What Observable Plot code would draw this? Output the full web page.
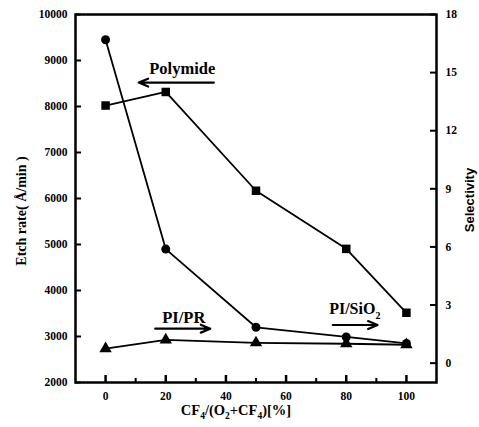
<!DOCTYPE html>
<html><head><meta charset="utf-8">
<script src="https://cdn.jsdelivr.net/npm/d3@7"></script>
<script src="https://cdn.jsdelivr.net/npm/@observablehq/plot@0.6"></script>
<style>body{margin:0;background:#fff} svg{display:block}</style>
</head><body><div id="chart"></div>
<script>
// Data
const ratio = [0, 20, 50, 80, 100];
const polymideEtch = [9450, 4900, 3200, 2990, 2850];   // left axis, Å/min
const selSiO2 = [13.3, 14.0, 8.9, 5.9, 2.6];           // right axis
const selPR = [0.75, 1.2, 1.05, 1.0, 0.95];            // right axis
const xTicks = [0, 20, 40, 60, 80, 100];
const xMinor = [10, 30, 50, 70, 90];
const leftTicks = [2000, 3000, 4000, 5000, 6000, 7000, 8000, 9000, 10000];
const rightTicks = [0, 3, 6, 9, 12, 15, 18];
const leftDomain = [2000, 10000];
const rightDomain = [-1, 18];
const xDomain = [-10, 110];
// annotations: label, x, y (left-axis units), arrow from/to x, arrow y
const annLabels = ["Polymide", "PI/PR"];
const annX = [25.5, 26];
const annY = [8830, 3400];
const arrowX1 = [36, 16.5, 75.5];
const arrowX2 = [11, 34.8, 90.4];
const arrowY = [8520, 3170, 3250];

const W = 479, H = 427, mL = 75, mR = 43, mT = 14, mB = 45;
const innerW = W - mL - mR, innerH = H - mT - mB;
const sel = d3.scaleLinear(rightDomain, leftDomain); // selectivity -> left units

const circ = ratio.map((x, i) => ({x, y: polymideEtch[i]}));
const sq = ratio.map((x, i) => ({x, y: sel(selSiO2[i])}));
const tri = ratio.map((x, i) => ({x, y: sel(selPR[i])}));
const arrows = arrowX1.map((x1, i) => ({x1, x2: arrowX2[i], y: arrowY[i]}));
const anns = annLabels.map((t, i) => ({t, x: annX[i], y: annY[i]}));

const plot = Plot.plot({
  width: W, height: H, marginLeft: mL, marginRight: mR, marginTop: mT, marginBottom: mB,
  style: {fontFamily: "'Liberation Serif', serif", fontSize: "11.5px", fontWeight: "bold", background: "#fff", color: "#000"},
  x: {domain: xDomain},
  y: {domain: leftDomain},
  marks: [
    Plot.ruleX(xTicks, {insetTop: innerH - 7, strokeWidth: 2.5}),
    Plot.ruleX(xMinor, {insetTop: innerH - 4, strokeWidth: 2}),
    Plot.ruleY(leftTicks, {insetRight: innerW - 6, strokeWidth: 2}),
    Plot.ruleY(rightTicks.map(sel), {insetLeft: innerW - 6, strokeWidth: 2}),
    Plot.axisX({ticks: xTicks, tickSize: 0, tickPadding: 9, label: null, tickFormat: "d"}),
    Plot.axisY({ticks: leftTicks, tickSize: 0, tickPadding: 8, label: null, tickFormat: "d"}),
    Plot.axisY(rightTicks.map(sel), {anchor: "right", tickSize: 0, tickPadding: 9, label: null,
      tickFormat: d => String(Math.round(sel.invert(d)))}),
    Plot.line(circ, {x: "x", y: "y", stroke: "#000", strokeWidth: 1.8}),
    Plot.line(sq, {x: "x", y: "y", stroke: "#000", strokeWidth: 1.8}),
    Plot.line(tri, {x: "x", y: "y", stroke: "#000", strokeWidth: 1.8}),
    Plot.dot(circ, {x: "x", y: "y", r: 4.5, fill: "#000", symbol: "circle"}),
    Plot.dot(sq, {x: "x", y: "y", r: 4.8, fill: "#000", symbol: "square"}),
    Plot.dot(tri, {x: "x", y: "y", r: 4.6, fill: "#000", symbol: "triangle"}),
    Plot.frame({strokeWidth: 2.5}),
    Plot.text(anns, {x: "x", y: "y", text: "t", fontSize: 16.5, fontWeight: "bold"}),
    Plot.arrow(arrows, {x1: "x1", x2: "x2", y1: "y", y2: "y", strokeWidth: 2.2, headLength: 7, headAngle: 45})
  ]
});

const svg = d3.select(plot);
const xs = plot.scale("x"), ys = plot.scale("y");
// PI/SiO2 label with subscript
const t3 = svg.append("text").attr("x", xs.apply(83)).attr("y", ys.apply(3600))
  .attr("text-anchor", "middle").attr("dy", "0.35em")
  .style("font-family", "'Liberation Serif', serif").style("font-size", "16px").style("font-weight", "bold");
t3.append("tspan").text("PI/SiO");
t3.append("tspan").attr("dy", 5).style("font-size", "10px").text("2");
// x-axis label
const xl = svg.append("text").attr("x", 236).attr("y", 415).attr("text-anchor", "middle")
  .style("font-family", "'Liberation Serif', serif").style("font-size", "14.5px").style("font-weight", "bold");
[["CF", 0], ["4", 1], ["/(O", -1], ["2", 1], ["+CF", -1], ["4", 1], [")[%]", -1]].forEach(([s, k]) => {
  const sp = xl.append("tspan").text(s);
  if (k === 1) sp.attr("dy", 4).style("font-size", "9.5px");
  if (k === -1) sp.attr("dy", -4);
});
// left label
svg.append("text").attr("transform", "translate(21,211) rotate(-90)").attr("text-anchor", "middle")
  .attr("dy", "0.35em").style("font-family", "'Liberation Serif', serif").style("font-size", "14px")
  .style("font-weight", "bold").text("Etch rate( Å/min )");
// right label
svg.append("text").attr("transform", "translate(469,200) rotate(-90)").attr("text-anchor", "middle")
  .attr("dy", "0.35em").style("font-family", "'Liberation Sans', sans-serif").style("font-size", "13px")
  .style("font-weight", "bold").text("Selectivity");

document.getElementById("chart").appendChild(plot);
</script>
</body></html>
